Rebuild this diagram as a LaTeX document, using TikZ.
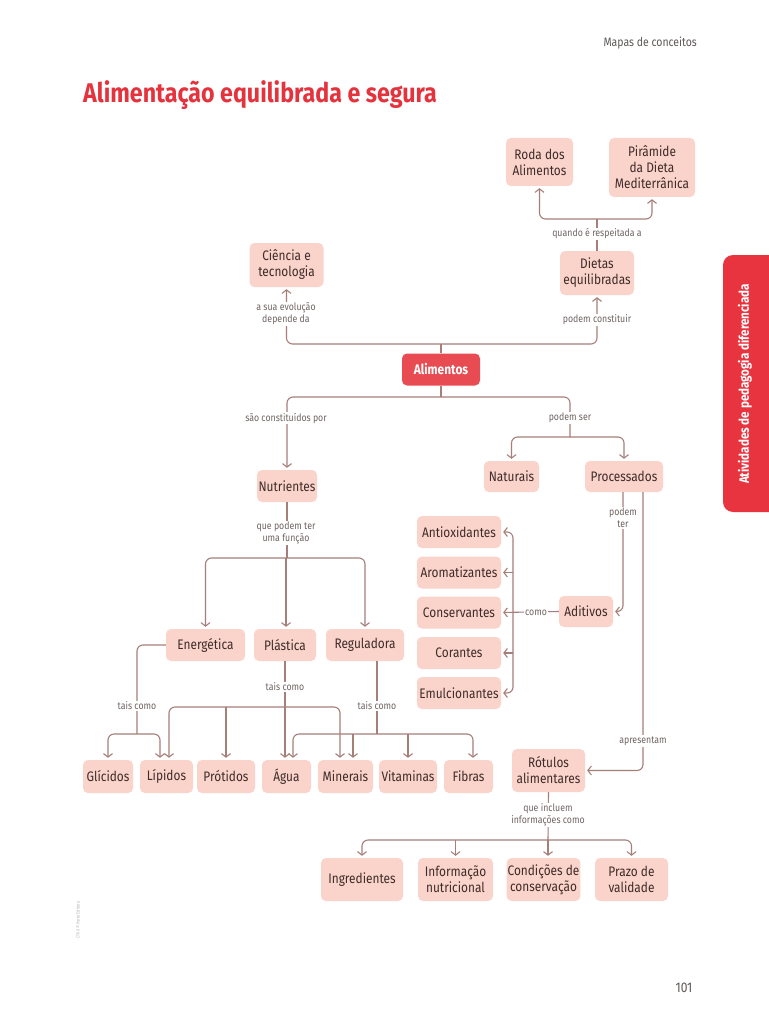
\documentclass[tikz,border=0pt]{standalone}
\usepackage{fontspec}
\setmainfont{Fira Sans}[FakeStretch=0.86]
\usetikzlibrary{arrows.meta,calc}
\definecolor{boxfill}{HTML}{FAD3CA}
\definecolor{alimfill}{HTML}{E84C52}
\definecolor{titlered}{HTML}{E5333E}
\definecolor{tabred}{HTML}{E8343F}
\definecolor{linecol}{HTML}{A67F79}
\definecolor{boxtext}{HTML}{3E2C2A}
\definecolor{labtext}{HTML}{6E6462}
\definecolor{headgray}{HTML}{5E5856}
\tikzset{
  concept/.style={fill=boxfill, rounded corners=5pt, inner sep=1pt, align=center,
    text=boxtext, font=\fontsize{13.8}{16}\selectfont, minimum height=32pt},
  mainconcept/.style={concept, fill=alimfill, text=white, font=\bfseries\fontsize{13.8}{16}\selectfont},
  lab/.style={fill=white, inner sep=1.2pt, align=center, text=labtext, font=\fontsize{10.2}{12}\selectfont},
  conn/.style={draw=linecol, line width=1.1pt, rounded corners=6pt},
  arr/.style={conn, -{Straight Barb[length=3.5pt,width=9pt]}, shorten >=2pt}
}
\begin{document}
\begin{tikzpicture}[x=1pt,y=-1pt]
\useasboundingbox (0,0) rectangle (768,1024);
\fill[white] (0,0) rectangle (768,1024);

% header
\node[anchor=east, text=headgray, font=\fontsize{12.2}{14}\selectfont, inner sep=0pt] (head) at (697,43) {Mapas de conceitos};
\node[anchor=base west, text=titlered, font=\bfseries\fontsize{27}{31}\selectfont, inner sep=0pt] (title) at (83,103) {Alimentação equilibrada e segura};
\node[text=headgray, font=\fontsize{14}{16}\selectfont] (pagenum) at (684,988) {101};
\fill[tabred, rounded corners=10pt] (723,255) rectangle (790,512);
\node[rotate=90, text=white, font=\bfseries\fontsize{13.5}{15}\selectfont] (tab) at (745,384) {Atividades de pedagogia diferenciada};
\node[rotate=90, text=gray!60, font=\fontsize{4.5}{5}\selectfont] (copy) at (78,920) {CTKX © Porto Editora};

% nodes
\node[concept, minimum width=67pt, minimum height=48pt] (roda) at (539.5,162) {Roda dos\\Alimentos};
\node[concept, minimum width=86pt, minimum height=59pt] (piramide) at (652,167.5) {Pirâmide\\da Dieta\\Mediterrânica};
\node[concept, minimum width=74pt, minimum height=44pt] (dietas) at (597,273) {Dietas\\equilibradas};
\node[concept, minimum width=74pt, minimum height=44pt] (ciencia) at (286.5,265) {Ciência e\\tecnologia};
\node[mainconcept, minimum width=78pt, minimum height=32pt] (alimentos) at (441,369.5) {Alimentos};
\node[concept, minimum width=60pt] (nutrientes) at (287,486) {Nutrientes};
\node[concept, minimum width=55pt, minimum height=31pt] (naturais) at (511.5,476.5) {Naturais};
\node[concept, minimum width=78pt, minimum height=31pt] (processados) at (624,476.5) {Processados};
\node[concept, minimum width=84pt] (antiox) at (459,532) {Antioxidantes};
\node[concept, minimum width=84pt] (aroma) at (459,572.5) {Aromatizantes};
\node[concept, minimum width=84pt] (conserv) at (459,612.5) {Conservantes};
\node[concept, minimum width=84pt] (corantes) at (459,653) {Corantes};
\node[concept, minimum width=84pt] (emulc) at (459,693) {Emulcionantes};
\node[concept, minimum width=54pt, minimum height=31pt] (aditivos) at (586,611.5) {Aditivos};
\node[concept, minimum width=79pt] (energetica) at (205.5,645) {Energética};
\node[concept, minimum width=62pt] (plastica) at (285,645) {Plástica};
\node[concept, minimum width=78pt] (reguladora) at (365,645) {Reguladora};
\node[concept, minimum width=50pt, minimum height=33pt] (glicidos) at (108,776.5) {Glícidos};
\node[concept, minimum width=53pt, minimum height=33pt] (lipidos) at (166.5,776.5) {Lípidos};
\node[concept, minimum width=58pt, minimum height=33pt] (protidos) at (226,776.5) {Prótidos};
\node[concept, minimum width=49pt, minimum height=33pt] (agua) at (286.5,776.5) {Água};
\node[concept, minimum width=55pt, minimum height=33pt] (minerais) at (345.5,776.5) {Minerais};
\node[concept, minimum width=58pt, minimum height=33pt] (vitaminas) at (408,776.5) {Vitaminas};
\node[concept, minimum width=49pt, minimum height=33pt] (fibras) at (468.5,776.5) {Fibras};
\node[concept, minimum width=73pt, minimum height=43pt] (rotulos) at (548.5,770.5) {Rótulos\\alimentares};
\node[concept, minimum width=82pt, minimum height=43pt] (ingred) at (362,879.5) {Ingredientes};
\node[concept, minimum width=75pt, minimum height=43pt] (infnutr) at (455.5,879.5) {Informação\\nutricional};
\node[concept, minimum width=73pt, minimum height=43pt] (condic) at (543.5,879.5) {Condições de\\conservação};
\node[concept, minimum width=73pt, minimum height=43pt] (prazo) at (631.5,879.5) {Prazo de\\validade};

% junction coordinates
\coordinate (jd) at (597,219);
\coordinate (ja) at (441,344);
\coordinate (jb) at (441,397);
\coordinate (jp) at (570,437);
\coordinate (jn) at (286,558);
\coordinate (je) at (137,734);
\coordinate (jpl) at (285,707);
\coordinate (jr) at (377,734);
\coordinate (jk) at (513,612.5);
\coordinate (jro) at (548,840);

% Dietas -> Roda / Piramide
\draw[conn] (dietas.north) -- (jd);
\draw[arr] (jd) -| (roda.south);
\draw[arr] (jd) -| (piramide.south);
% Alimentos -> Ciencia / Dietas
\draw[conn] (alimentos.north) -- (ja);
\draw[arr] (ja) -| (ciencia.south);
\draw[arr] (ja) -| (dietas.south);
% Alimentos -> Nutrientes / podem ser
\draw[conn] (alimentos.south) -- (jb);
\draw[arr] (jb) -| (nutrientes.north);
\draw[conn] (jb) -| (jp);
\draw[arr] (jp) -| (naturais.north);
\draw[arr] (jp) -| (processados.north);
% Processados -> Aditivos, Rotulos
\draw[arr] ([xshift=-1pt]processados.south) |- (aditivos.east);
\draw[arr] ([xshift=19pt]processados.south) |- (rotulos.east);
% Aditivos -> additive types
\draw[arr] (aditivos.west) -- (conserv.east);
\draw[arr] (jk) |- (antiox.east);
\draw[arr] (jk) |- (emulc.east);
\draw[arr] (jk |- aroma.east) -- (aroma.east);
\draw[arr] (jk |- corantes.east) -- (corantes.east);
% Nutrientes -> functions
\draw[conn] (nutrientes.south) -- (nutrientes.south |- jn);
\draw[arr] (jn) -| (energetica.north);
\draw[arr] (jn) -- (jn |- plastica.north);
\draw[arr] (jn) -| (reguladora.north);
% Energetica
\draw[conn] (energetica.west) -| (je);
\draw[arr] (je) -| (glicidos.north);
\draw[arr] (je) -| ([xshift=-6.5pt]lipidos.north);
% Plastica
\draw[conn] (plastica.south) -- (jpl);
\draw[arr] (jpl) -| ([xshift=2.5pt]lipidos.north);
\draw[arr] (jpl -| protidos.north) -- (protidos.north);
\draw[arr] (jpl) -- (jpl |- agua.north);
\draw[arr] (jpl) -| ([xshift=-5.5pt]minerais.north);
% Reguladora
\draw[conn] ([xshift=12pt]reguladora.south) -- (jr);
\draw[arr] (jr) -| ([xshift=6.5pt]agua.north);
\draw[arr] (jr -| minerais.north) ++(7.5,0) -- ([xshift=7.5pt]minerais.north);
\draw[arr] (jr -| vitaminas.north) -- (vitaminas.north);
\draw[arr] (jr) -| ([xshift=4.5pt]fibras.north);
% Rotulos
\draw[conn] (rotulos.south) -- (jro);
\draw[arr] (jro) -| (ingred.north);
\draw[arr] (jro -| infnutr.north) -- (infnutr.north);
\draw[arr] (jro) -- (jro |- condic.north);
\draw[arr] (jro) -| (prazo.north);

% labels
\node[lab] (l1) at (597,234) {quando é respeitada a};
\node[lab] (l2) at (286,314) {a sua evolução\\depende da};
\node[lab] (l3) at (597,320) {podem constituir};
\node[lab] (l4) at (286,418) {são constituídos por};
\node[lab] (l5) at (570,418) {podem ser};
\node[lab] (l6) at (623,518) {podem\\ter};
\node[lab] (l7) at (286,533) {que podem ter\\uma função};
\node[lab] (l8) at (536,612.5) {como};
\node[lab] (l9) at (137,706) {tais como};
\node[lab] (l10) at (285,687) {tais como};
\node[lab] (l11) at (377,706) {tais como};
\node[lab] (l12) at (643,741) {apresentam};
\node[lab] (l13) at (548,815) {que incluem\\informações como};
\end{tikzpicture}
\end{document}
